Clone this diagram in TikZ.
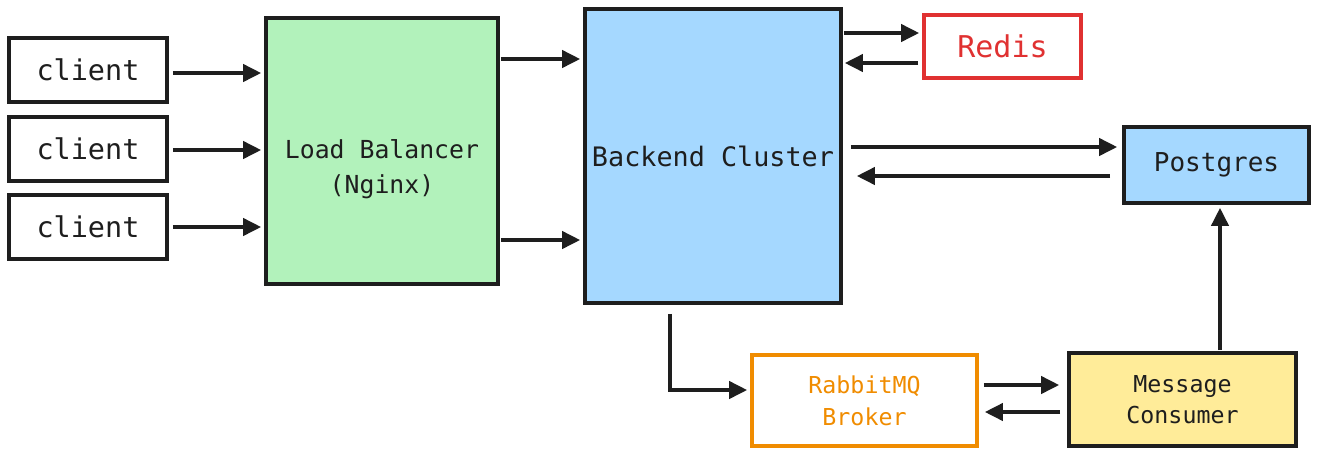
\documentclass[tikz,border=0pt]{standalone}
\usepackage{fontspec}
\setmonofont{DejaVu Sans Mono}
\usetikzlibrary{calc,positioning,arrows.meta}
\definecolor{ink}{HTML}{1E1E1E}
\definecolor{lbgreen}{HTML}{B2F2BB}
\definecolor{beblue}{HTML}{A5D8FF}
\definecolor{mcyellow}{HTML}{FFEC99}
\definecolor{redisred}{HTML}{E03131}
\definecolor{mqorange}{HTML}{F08C00}
\tikzset{
	box/.style={draw=ink,rectangle,line width=3.6pt,inner sep=0pt,
		align=center,font=\ttfamily,text=ink},
	client/.style={box,minimum width=158pt,minimum height=64pt,
		font=\ttfamily\fontsize{28.5}{32}\selectfont},
	arr/.style={draw=ink,line width=3.8pt,
		-{Triangle[length=18pt,width=17pt]},shorten <=4pt,shorten >=3pt}
}

\begin{document}
\begin{tikzpicture}[x=1pt,y=-1pt]
\useasboundingbox (0,0) rectangle (1320,456);

\node[client] (c1) at (88,70) {client};
\node[client,below=11.5pt of c1] (c2) {client};
\node[client,below=10.5pt of c2] (c3) {client};

\node[box,fill=lbgreen,minimum width=232pt,minimum height=266pt,
	label={[align=center,yshift=-18pt,text=ink,
	font=\ttfamily\fontsize{24.8}{35}\selectfont]center:Load Balancer\\(Nginx)}] (lb) at (382,151) {};
\node[box,fill=beblue,minimum width=256pt,minimum height=294pt,
	font=\ttfamily\fontsize{26.8}{30}\selectfont] (be) at (713,156) {Backend Cluster};

\node[box,draw=redisred,text=redisred,minimum width=157pt,minimum height=63pt,
	font=\ttfamily\fontsize{30}{32}\selectfont] (redis) at (1002.5,46.5) {Redis};
\node[box,fill=beblue,minimum width=185pt,minimum height=76pt,
	font=\ttfamily\fontsize{26}{30}\selectfont] (pg) at (1216.5,165) {Postgres};
\node[box,draw=mqorange,text=mqorange,minimum width=225pt,minimum height=91pt,
	font=\ttfamily\fontsize{23.3}{32}\selectfont] (mq) at (864.5,400.5) {RabbitMQ\\Broker};
\node[box,fill=mcyellow,minimum width=227pt,minimum height=93pt,
	font=\ttfamily\fontsize{23.3}{31}\selectfont] (mc) at (1182.5,399.5) {Message\\Consumer};

% clients to load balancer
\draw[arr] (c1.east |- 0,73) -- (lb.west |- 0,73);
\draw[arr] (c2.east |- 0,150) -- (lb.west |- 0,150);
\draw[arr] (c3.east |- 0,227) -- (lb.west |- 0,227);

\draw[arr,shorten <=1pt] (lb.east |- 0,59) -- (be.west |- 0,59);
\draw[arr,shorten <=1pt] (lb.east |- 0,240) -- (be.west |- 0,240);

% cache and database
\draw[arr,shorten <=1pt] (be.east |- 0,33) -- (redis.west |- 0,33);
\draw[arr,shorten >=2pt] (redis.west |- 0,63) -- (be.east |- 0,63);
\draw[arr,shorten <=8pt,shorten >=5pt] (be.east |- 0,147) -- (pg.west |- 0,147);
\draw[arr,shorten <=12pt,shorten >=14pt] (pg.west |- 0,176) -- (be.east |- 0,176);

% queue
\draw[arr,shorten <=9pt] (be.south -| 670,0) |- (mq.west |- 0,390);
\draw[arr,shorten <=5pt,shorten >=8pt] (mq.east |- 0,385) -- (mc.west |- 0,385);
\draw[arr,shorten <=7pt,shorten >=6pt] (mc.west |- 0,412) -- (mq.east |- 0,412);
\draw[arr,shorten <=1pt] (mc.north -| 1220,0) -- (pg.south -| 1220,0);

\end{tikzpicture}
\end{document}
